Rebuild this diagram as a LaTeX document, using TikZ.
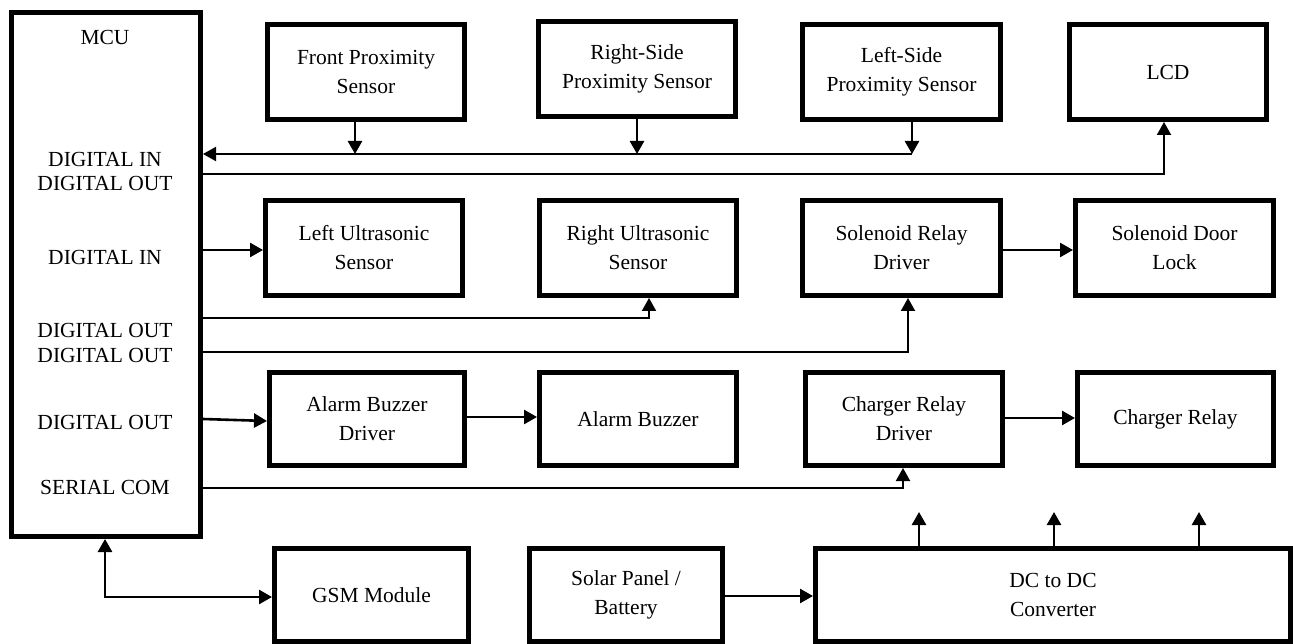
\documentclass[tikz,border=0pt]{standalone}
\usepackage{fontspec}
\setmainfont{Liberation Serif}
\usetikzlibrary{arrows.meta,calc}
\begin{document}
\begin{tikzpicture}[x=1pt,y=-1pt,
  box/.style={draw, line width=5pt, rectangle, align=center, inner sep=0pt},
  lbl/.style={inner sep=0pt},
  thin/.style={line width=2pt},
  arr/.style={line width=2.6pt, -{Triangle[length=13pt,width=14pt]}},
  tarr/.style={line width=2pt, -{Triangle[length=13pt,width=14pt]}},
  darr/.style={line width=2.6pt, {Triangle[length=13pt,width=14pt]}-{Triangle[length=13pt,width=14pt]}},
  font=\fontsize{21.5}{29}\selectfont]
\useasboundingbox (0,0) rectangle (1293,644);

% MCU
\node[box, minimum width=189pt, minimum height=524pt] (mcu) at (106,274.5) {};
\node[lbl] (tmcu) at (105,37) {MCU};
\node[lbl] (l1) at (105,159) {DIGITAL IN};
\node[lbl] (l2) at (105,183) {DIGITAL OUT};
\node[lbl] (l3) at (105,257) {DIGITAL IN};
\node[lbl] (l4) at (105,330) {DIGITAL OUT};
\node[lbl] (l5) at (105,355) {DIGITAL OUT};
\node[lbl] (l6) at (105,422) {DIGITAL OUT};
\node[lbl] (l7) at (105,487) {SERIAL COM};

% Row 1
\node[box, minimum width=197pt, minimum height=95pt] (front) at (366,72) {Front Proximity\\Sensor};
\node[box, minimum width=197pt, minimum height=95pt] (rside) at (637,69) {Right-Side\\Proximity Sensor};
\node[box, minimum width=198pt, minimum height=95pt] (lside) at (901.5,72) {Left-Side\\Proximity Sensor};
\node[box, minimum width=197pt, minimum height=95pt] (lcd) at (1168,72) {LCD};

% Row 2
\node[box, minimum width=197pt, minimum height=95pt] (lus) at (364,248) {Left Ultrasonic\\Sensor};
\node[box, minimum width=197pt, minimum height=95pt] (rus) at (638,248) {Right Ultrasonic\\Sensor};
\node[box, minimum width=198pt, minimum height=95pt] (srd) at (901.5,248) {Solenoid Relay\\Driver};
\node[box, minimum width=198pt, minimum height=95pt] (sdl) at (1174.5,248) {Solenoid Door\\Lock};

% Row 3
\node[box, minimum width=195pt, minimum height=93pt] (abd) at (367,419) {Alarm Buzzer\\Driver};
\node[box, minimum width=197pt, minimum height=93pt] (ab) at (638,419) {Alarm Buzzer};
\node[box, minimum width=197pt, minimum height=93pt] (crd) at (904,419) {Charger Relay\\Driver};
\node[box, minimum width=196pt, minimum height=93pt] (cr) at (1175.5,419) {Charger Relay};

% Row 4
\node[box, minimum width=194pt, minimum height=93pt] (gsm) at (371.5,595) {GSM Module};
\node[box, minimum width=193pt, minimum height=93pt] (solar) at (626,595) {Solar Panel /\\Battery};
\node[box, minimum width=475pt, minimum height=93pt] (dc) at (1053,595) {DC to DC\\Converter};

% coordinates
\coordinate (b1) at (355,154);
\coordinate (b2) at (637,154);
\coordinate (b3) at (912,154);
\coordinate (lc) at (1164,174);
\coordinate (ru) at (649,318);
\coordinate (sr) at (908,352);
\coordinate (sc) at (903,488);
\coordinate (gs) at (105,597);
\coordinate (u1) at (919,512);
\coordinate (u2) at (1054,512);
\coordinate (u3) at (1199,512);

% Row 1 bus
\draw[arr] (front.south -| b1) -- (b1);
\draw[arr] (rside.south -| b2) -- (b2);
\draw[arr] (lside.south -| b3) -- (b3);
\draw[tarr] (b3) -- (b3 -| mcu.east);
\draw[tarr] (lc -| mcu.east) -- (lc) -- (lcd.south -| lc);

% Row 2
\draw[arr] (mcu.east |- 0,250) -- (lus.west |- 0,250);
\draw[tarr] (ru -| mcu.east) -- (ru) -- (rus.south -| ru);
\draw[tarr] (sr -| mcu.east) -- (sr) -- (srd.south -| sr);
\draw[arr] (srd.east |- 0,250) -- (sdl.west |- 0,250);

% Row 3
\draw[arr] (mcu.east |- 0,419) -- (abd.west |- 0,421);
\draw[arr] (abd.east |- 0,417) -- (ab.west |- 0,417);
\draw[arr] (crd.east |- 0,418) -- (cr.west |- 0,418);
\draw[tarr] (sc -| mcu.east) -- (sc) -- (crd.south -| sc);

% Row 4
\draw[darr] (mcu.south -| gs) -- (gs) -- (gsm.west |- gs);
\draw[arr] (solar.east |- 0,596) -- (dc.west |- 0,596);
\draw[arr] (dc.north -| u1) -- (u1);
\draw[arr] (dc.north -| u2) -- (u2);
\draw[arr] (dc.north -| u3) -- (u3);
\end{tikzpicture}
\end{document}
